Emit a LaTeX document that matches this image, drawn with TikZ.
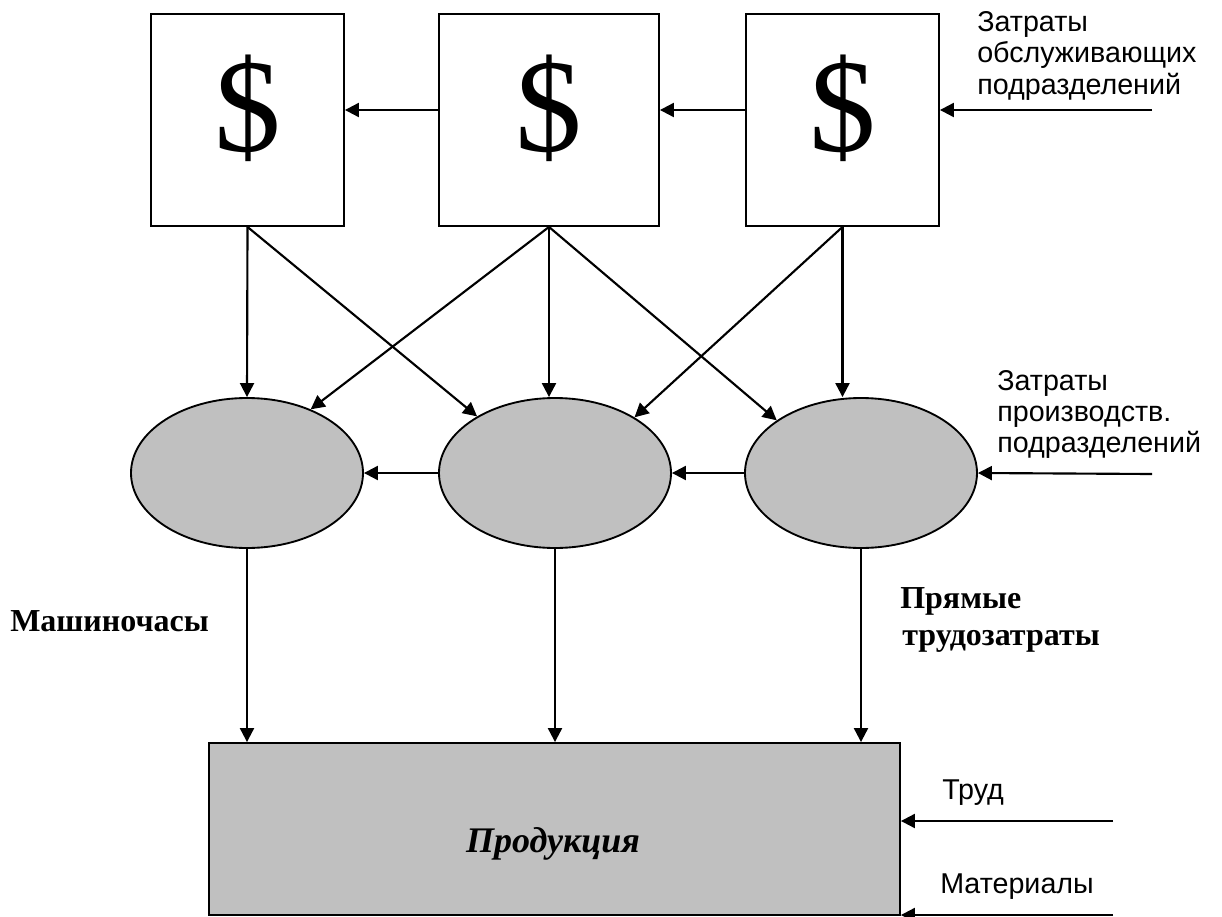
\documentclass[tikz,border=0pt]{standalone}
\usepackage{fontspec}
\setmainfont{Liberation Serif}
\newfontfamily\arialfont{Liberation Sans}
\usetikzlibrary{arrows.meta,shapes.geometric}
\definecolor{grayfill}{RGB}{192,192,192}
\begin{document}
\begin{tikzpicture}[x=0.75pt,y=-0.75pt,
  boxn/.style={draw,line width=1.4pt,minimum width=144.75pt,minimum height=159pt,inner sep=0pt},
  ell/.style={draw,ellipse,fill=grayfill,line width=1.4pt,minimum width=174pt,minimum height=112.5pt,inner sep=0pt},
  prod/.style={draw,fill=grayfill,line width=1.4pt,minimum width=518.25pt,minimum height=129pt,inner sep=0pt},
  arr/.style={line width=1.6pt,-{Triangle[length=10.5pt,width=10.5pt]}},
  sanslbl/.style={font=\arialfont\fontsize{21.5}{25}\selectfont,anchor=base west,inner sep=0pt},
  boldlbl/.style={font=\bfseries\fontsize{24}{29}\selectfont,anchor=base west,inner sep=0pt},
  dollar/.style={font=\fontsize{100}{120}\selectfont,inner sep=0pt}]
\useasboundingbox (0,0) rectangle (1222,917);
% boxes
\node[boxn] (b1) at (247.5,120) {};
\node[boxn,minimum width=165pt] (b2) at (549,120) {};
\node[boxn] (b3) at (842.5,120) {};
\node[dollar] (d1) at (247.5,108) {\$};
\node[dollar] (d2) at (549,108) {\$};
\node[dollar] (d3) at (842.5,108) {\$};
% ellipses
\node[ell] (e1) at (247,473) {};
\node[ell] (e2) at (555,473) {};
\node[ell] (e3) at (861,473) {};
% product
\node[prod] (p) at (554.5,829) {};
\node[font=\bfseries\itshape\fontsize{27}{32}\selectfont,anchor=base,inner sep=0pt] (pt) at (553,852) {Продукция};
% labels
\node[sanslbl] (t1) at (977,32) {Затраты};
\node[sanslbl] (t2) at (977,63) {обслуживающих};
\node[sanslbl] (t3) at (977,94) {подразделений};
\node[sanslbl] (m1) at (997,390) {Затраты};
\node[sanslbl] (m2) at (997,421) {производств.};
\node[sanslbl] (m3) at (997,452) {подразделений};
\node[sanslbl] (tr) at (942,799) {Труд};
\node[sanslbl] (mt) at (940,893) {Материалы};
\node[boldlbl] (mc) at (10,631) {Машиночасы};
\node[boldlbl] (pr1) at (900,608) {Прямые};
\node[boldlbl] (pr2) at (902,645) {трудозатраты};
% free ends
\coordinate (in1) at (1152,110);
\coordinate (in2) at (1152,474);
\coordinate (in3) at (1113,821);
\coordinate (in4) at (1113,915);
% top arrows
\draw[arr] ([yshift=7.5pt]b2.west) -- ([yshift=7.5pt]b1.east);
\draw[arr] ([yshift=7.5pt]b3.west) -- ([yshift=7.5pt]b2.east);
\draw[arr] (in1) -- (in1 -| b3.east);
% boxes to ellipses
\draw[arr] (b1.south) -- (e1.north);
\draw[arr] (b1.south) -- (e2.144);
\draw[arr] (b2.south) -- (e1.45);
\draw[arr] (b2.south) -- (b2.south |- e2.north);
\draw[arr] (b2.south) -- (e3.148);
\draw[arr] (b3.south) -- (e2.35);
\draw[arr] (b3.south) -- (b3.south |- e3.north);
% ellipse row
\draw[arr] (e2.west) -- (e1.east);
\draw[arr] (e3.west) -- (e2.east);
\draw[arr] (in2) -- (e3.east);
% ellipses to product
\draw[arr] (e1.south) -- (e1.south |- p.north);
\draw[arr] (e2.south) -- (e2.south |- p.north);
\draw[arr] (e3.south) -- (e3.south |- p.north);
% inputs
\draw[arr] (in3) -- (in3 -| p.east);
\draw[arr] (in4) -- (in4 -| p.east);
\end{tikzpicture}
\end{document}
